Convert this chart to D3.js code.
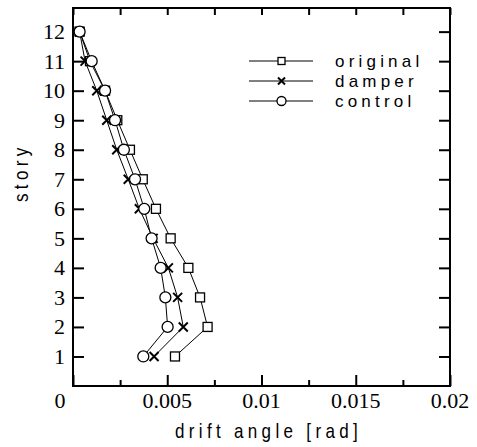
<!DOCTYPE html>
<html>
<head>
<meta charset="utf-8">
<script src="https://cdn.jsdelivr.net/npm/d3@7"></script>
<style>
  body { margin: 0; background: #fff; }
  .num { font-family: "Liberation Serif", serif; font-size: 22px; }
  .lab { font-family: "Liberation Sans", sans-serif; font-size: 20px; letter-spacing: 5.1px; }
  .leg { font-family: "Liberation Sans", sans-serif; font-size: 17px; letter-spacing: 4.2px; }
</style>
</head>
<body>
<svg width="477" height="447"></svg>
<script>
// story numbers and drift angles
const stories = [1, 2, 3, 4, 5, 6, 7, 8, 9, 10, 11, 12];
const original = [0.00541, 0.00714, 0.00674, 0.00612, 0.00518, 0.0044, 0.0037, 0.00302, 0.00235, 0.0017, 0.0009, 0.00035];
const damper   = [0.0043, 0.00585, 0.00555, 0.00506, 0.00425, 0.00352, 0.00293, 0.00232, 0.00179, 0.00126, 0.00064, 0.00035];
const control  = [0.00373, 0.00502, 0.0049, 0.00465, 0.00417, 0.00378, 0.00329, 0.0027, 0.00223, 0.0017, 0.00099, 0.00035];
const seriesNames = ["original", "damper", "control"];
const xTicks = [0, 0.005, 0.01, 0.015, 0.02];
const xTickLabels = ["0", "0.005", "0.01", "0.015", "0.02"];
const xMinor = [0.0025, 0.0075, 0.0125, 0.0175];

const svg = d3.select("svg");
const pLeft = 73, pRight = 450, pTop = 8, pBottom = 386;

const x = d3.scaleLinear().domain([0, 0.02]).range([pLeft, pRight]);
const y = d3.scaleLinear().domain([0, 12.8]).range([pBottom, pTop]);

// tick marks, all pointing inward
function ticks(axis, pos, len) {
  const g = svg.append("g").attr("transform", pos).call(axis.tickSize(len).tickFormat(""));
  g.select(".domain").remove();
  g.selectAll(".tick line").attr("stroke", "#000").attr("stroke-width", 2);
}
ticks(d3.axisBottom(x).tickValues(xTicks), `translate(0,${pBottom})`, -11);
ticks(d3.axisBottom(x).tickValues(xMinor), `translate(0,${pBottom})`, -6);
ticks(d3.axisTop(x).tickValues(xTicks.concat(xMinor)), `translate(0,${pTop})`, -7);
ticks(d3.axisLeft(y).tickValues(stories), `translate(${pLeft},0)`, -11);
ticks(d3.axisRight(y).tickValues(stories), `translate(${pRight},0)`, -11);

svg.append("rect")
  .attr("x", pLeft).attr("y", pTop)
  .attr("width", pRight - pLeft).attr("height", pBottom - pTop)
  .attr("fill", "none").attr("stroke", "#000").attr("stroke-width", 2);

// tick labels
svg.append("g").selectAll("text").data(xTicks).join("text")
  .attr("class", "num")
  .attr("x", (d, i) => i === 0 ? x(d) - 13 : x(d))
  .attr("y", 408)
  .attr("text-anchor", "middle")
  .text((d, i) => xTickLabels[i]);

svg.append("g").selectAll("text").data(stories).join("text")
  .attr("class", "num")
  .attr("x", 65)
  .attr("y", d => y(d))
  .attr("dy", "0.34em")
  .attr("text-anchor", "end")
  .text(d => d);

// condensed, letter-spaced axis titles
function label(transform, txt) {
  svg.append("text").attr("class", "lab")
    .attr("transform", transform + " scale(0.85,1)")
    .text(txt);
}
label("translate(175,438)", "drift angle [rad]");
label("translate(28,202) rotate(-90)", "story");

// markers
function marker(g, type) {
  if (type === "original") {
    g.append("rect").attr("x", -4.5).attr("y", -4.5).attr("width", 9).attr("height", 9)
      .attr("fill", "#fff").attr("stroke", "#000").attr("stroke-width", 1.3);
  } else if (type === "damper") {
    g.append("path").attr("d", "M-4.5,-4.5L4.5,4.5M-4.5,4.5L4.5,-4.5")
      .attr("stroke", "#000").attr("stroke-width", 2);
  } else {
    g.append("circle").attr("r", 5.5)
      .attr("fill", "#fff").attr("stroke", "#000").attr("stroke-width", 1.3);
  }
}

const series = [original, damper, control];
const line = d3.line().x(d => x(d[0])).y(d => y(d[1]));

series.forEach((vals, k) => {
  const pts = vals.map((v, i) => [v, stories[i]]);
  svg.append("path").datum(pts)
    .attr("d", line).attr("fill", "none")
    .attr("stroke", "#000").attr("stroke-width", 1);
});
series.forEach((vals, k) => {
  vals.forEach((v, i) => {
    const g = svg.append("g").attr("transform", `translate(${x(v)},${y(stories[i])})`);
    marker(g, seriesNames[k]);
  });
});

// legend
const legY = [61, 81, 101];
seriesNames.forEach((name, k) => {
  svg.append("line")
    .attr("x1", 249).attr("x2", 313)
    .attr("y1", legY[k]).attr("y2", legY[k])
    .attr("stroke", "#000").attr("stroke-width", 1);
  const g = svg.append("g").attr("transform", `translate(281.5,${legY[k]})`);
  marker(g, name);
  g.select("rect").attr("x", -3.5).attr("y", -3.5).attr("width", 7).attr("height", 7);
  g.select("circle").attr("r", 4.5);
  g.select("path").attr("d", "M-3.5,-3.5L3.5,3.5M-3.5,3.5L3.5,-3.5");
  svg.append("text").attr("class", "leg")
    .attr("x", 335).attr("y", legY[k] + 6)
    .text(name);
});
</script>
</body>
</html>
